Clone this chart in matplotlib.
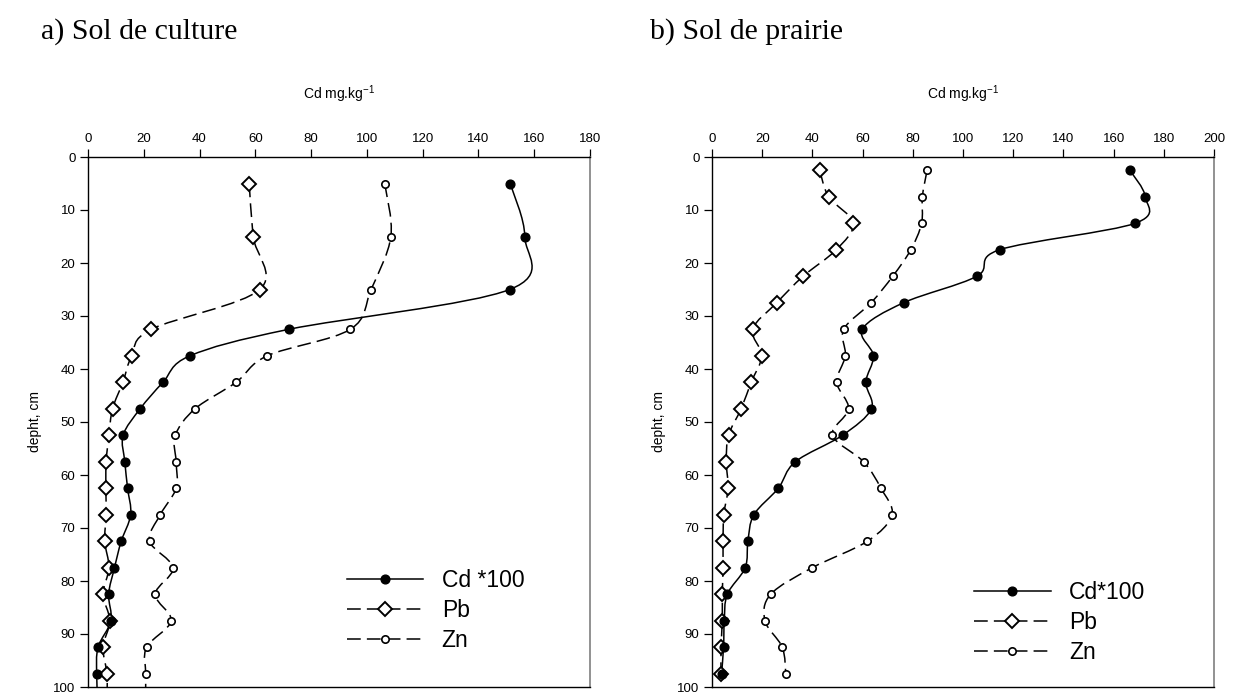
import numpy as np
import matplotlib
matplotlib.use("Agg")
import matplotlib.pyplot as plt
from matplotlib.path import Path
from matplotlib.patches import PathPatch
from matplotlib.lines import Line2D

plt.rcParams['font.family'] = ['Liberation Sans', 'DejaVu Sans']
plt.rcParams['mathtext.default'] = 'regular'

# depth (cm) of each sample
depth_a = [5, 15, 25, 32.5, 37.5, 42.5, 47.5, 52.5, 57.5, 62.5, 67.5, 72.5,
           77.5, 82.5, 87.5, 92.5, 97.5, 102.5]
depth_b = [2.5, 7.5, 12.5, 17.5, 22.5, 27.5, 32.5, 37.5, 42.5, 47.5, 52.5,
           57.5, 62.5, 67.5, 72.5, 77.5, 82.5, 87.5, 92.5, 97.5]

# a) Sol de culture
cd_a = [151.4, 156.6, 151.2, 72.1, 36.6, 26.9, 18.7, 12.6, 13.2, 14.2, 15.3,
        11.9, 9.5, 7.4, 8.2, 3.6, 3.1, 3.5]
pb_a = [57.8, 59.2, 61.6, 22.7, 15.7, 12.5, 8.8, 7.5, 6.5, 6.4, 6.5, 6.0,
        7.5, 5.4, 7.8, 5.4, 6.8, 6.8]
zn_a = [106.4, 108.6, 101.5, 94.1, 64.3, 53.1, 38.4, 31.3, 31.6, 31.6, 25.9,
        22.1, 30.5, 24.1, 29.8, 21.0, 20.7, 20.7]

# b) Sol de prairie
cd_b = [166.5, 172.6, 168.6, 114.6, 105.5, 76.3, 59.9, 64.3, 61.3, 63.5,
        52.0, 33.2, 26.4, 16.7, 14.3, 13.2, 6.1, 4.9, 4.6, 3.8]
pb_b = [42.9, 46.5, 56.3, 49.5, 36.3, 25.8, 16.2, 19.8, 15.6, 11.6, 6.6, 5.7,
        6.4, 4.7, 4.4, 4.4, 4.1, 4.1, 3.6, 3.6]
zn_b = [85.7, 83.8, 83.5, 79.2, 72.0, 63.4, 52.5, 53.1, 49.7, 54.4, 48.0,
        60.4, 67.3, 71.7, 61.9, 39.9, 23.4, 21.1, 28.0, 29.4]


def spline_path(x, y):
    # smooth line through the points (Catmull-Rom drawn as bezier segments)
    p = np.column_stack([x, y]).astype(float)
    n = len(p)
    verts = [p[0]]
    codes = [Path.MOVETO]
    for i in range(n - 1):
        p0 = p[i - 1] if i > 0 else p[i]
        p3 = p[i + 2] if i + 2 < n else p[i + 1]
        t1 = (p[i + 1] - p0) / 2.0
        t2 = (p3 - p[i]) / 2.0
        verts += [p[i] + t1 / 3.0, p[i + 1] - t2 / 3.0, p[i + 1]]
        codes += [Path.CURVE4] * 3
    return Path(verts, codes)


dash = (0, (9, 4))
styles = {
    'cd': dict(marker='o', ms=6.3, mfc='black', mec='black', mew=1.0, ls='-'),
    'pb': dict(marker='D', ms=7.2, mfc='white', mec='black', mew=1.4, ls=dash),
    'zn': dict(marker='o', ms=5.3, mfc='white', mec='black', mew=1.2, ls=dash),
}

fig = plt.figure(figsize=(12.38, 6.96), dpi=100)
ax_a = fig.add_axes([88 / 1238, 9 / 696, 502 / 1238, 530 / 696])
ax_b = fig.add_axes([712 / 1238, 9 / 696, 502 / 1238, 530 / 696])

panels = [
    (ax_a, depth_a, cd_a, pb_a, zn_a, 180, 'Cd *100', (0.515, 0.145)),
    (ax_b, depth_b, cd_b, pb_b, zn_b, 200, 'Cd*100', (0.522, 0.121)),
]

for ax, depth, cd, pb, zn, xmax, cdlab, legpos in panels:
    for key, vals in (('zn', zn), ('pb', pb), ('cd', cd)):
        st = styles[key]
        ax.add_patch(PathPatch(spline_path(vals, depth), fill=False,
                               edgecolor='black', lw=1.1, ls=st['ls'], zorder=2))
        ax.plot(vals, depth, ls='none', marker=st['marker'], ms=st['ms'],
                mfc=st['mfc'], mec=st['mec'], mew=st['mew'], zorder=3)

    ax.set_xlim(0, xmax)
    ax.set_ylim(100, 0)
    ax.set_xticks(np.arange(0, xmax + 1, 20))
    ax.set_yticks(np.arange(0, 101, 10))
    ax.xaxis.tick_top()
    ax.xaxis.set_label_position('top')
    ax.tick_params(axis='both', direction='out', length=6, width=0.9,
                   labelsize=9.5, colors='black', pad=3)
    ax.set_xlabel('Cd mg.kg$^{-1}$', fontsize=10, labelpad=24)
    ax.set_ylabel('depht, cm', fontsize=10, labelpad=8)
    for s in ('top', 'left', 'bottom'):
        ax.spines[s].set_linewidth(1.0)
    ax.spines['right'].set_color('#7f7f7f')
    ax.spines['right'].set_linewidth(1.2)

    handles = []
    for key in ('cd', 'pb', 'zn'):
        st = styles[key]
        handles.append(Line2D([], [], color='black', lw=1.1, ls=st['ls'],
                              marker=st['marker'], ms=st['ms'], mfc=st['mfc'],
                              mec=st['mec'], mew=st['mew']))
    ax.legend(handles, [cdlab, 'Pb', 'Zn'], loc='center left',
              bbox_to_anchor=legpos, frameon=False, fontsize=16.5,
              handlelength=3.35, handletextpad=0.8, labelspacing=0.3,
              borderaxespad=0, borderpad=0)

fig.text(0.033, 0.955, 'a) Sol de culture', family='Liberation Serif',
         fontsize=21.5, va='center', ha='left')
fig.text(0.525, 0.955, 'b) Sol de prairie', family='Liberation Serif',
         fontsize=21.5, va='center', ha='left')

fig.savefig('out.png', dpi=100)
